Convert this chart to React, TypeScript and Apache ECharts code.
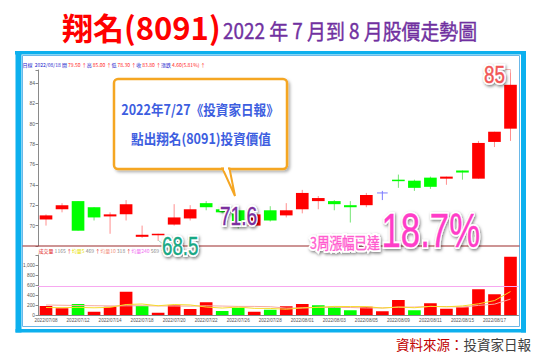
import { useEffect, useRef } from "react";
import * as echarts from "echarts";

// Trading days shown on the chart
const dates = [
  "2022/07/08", "2022/07/11", "2022/07/12", "2022/07/13", "2022/07/14", "2022/07/15",
  "2022/07/18", "2022/07/19", "2022/07/20", "2022/07/21", "2022/07/22",
  "2022/07/25", "2022/07/26", "2022/07/27", "2022/07/28", "2022/07/29",
  "2022/08/01", "2022/08/02", "2022/08/03", "2022/08/04", "2022/08/05",
  "2022/08/08", "2022/08/09", "2022/08/10", "2022/08/11", "2022/08/12",
  "2022/08/15", "2022/08/16", "2022/08/17", "2022/08/18",
];

// Daily prices
const opens = [70.6, 71.6, 72.4, 71.8, 70.9, 71.1, 68.9, 69.1, 70.1, 70.7, 72.2, 71.6, 71.5, 70.0, 71.5, 71.0, 71.6, 72.4, 72.4, 72.0, 72.0, 73.2, 74.5, 74.4, 74.7, 74.6, 75.4, 74.6, 78.2, 79.5];
const closes = [71.0, 72.0, 69.5, 70.8, 71.1, 72.1, 69.1, 69.2, 70.8, 71.6, 71.8, 71.3, 69.9, 71.1, 70.5, 71.5, 73.2, 72.7, 72.1, 71.8, 73.0, 73.2, 74.4, 73.7, 73.8, 74.8, 75.2, 78.1, 79.2, 83.8];
const lows = [70.0, 71.3, 69.5, 70.5, 69.2, 70.5, 68.8, 68.5, 70.0, 70.5, 71.5, 71.2, 69.7, 70.0, 70.4, 70.8, 71.2, 71.6, 71.5, 70.3, 71.8, 72.5, 73.7, 73.4, 73.6, 74.0, 74.5, 74.6, 77.7, 78.3];
const highs = [71.1, 72.2, 72.4, 71.8, 71.3, 72.5, 70.0, 69.2, 72.1, 72.0, 72.4, 71.6, 71.5, 71.6, 71.9, 72.2, 73.5, 72.9, 72.5, 72.4, 73.2, 73.4, 75.0, 74.5, 74.8, 74.8, 75.4, 78.3, 79.2, 85.0];

// Daily volume (lots) and its moving averages
const volumes = [180, 135, 220, 65, 165, 465, 180, 45, 195, 120, 255, 80, 145, 65, 105, 175, 220, 195, 165, 95, 165, 75, 300, 95, 235, 125, 155, 515, 415, 1165];
const volMa5 = [150, 146, 152, 144, 153, 210, 220, 185, 210, 201, 159, 139, 159, 133, 131, 115, 143, 152, 172, 169, 168, 139, 160, 145, 173, 165, 181, 224, 288, 469];
const volMa10 = [200, 195, 190, 186, 182, 184, 185, 181, 180, 177, 185, 179, 172, 172, 166, 137, 141, 155, 153, 150, 141, 141, 156, 159, 171, 167, 160, 192, 217, 318];
const volMa240 = 569;

// Axis ranges and ticks
const priceMin = 68;
const priceMax = 85.25;
const priceStep = 2;
const volMax = 1200;
const volStep = 200;

// Annotated prices
const articlePrice = 71.6;
const lowPrice = 68.5;
const highPrice = 85;
const gainPct = 18.7;

const RED = "#ff0000";
const GREEN = "#00ff00";
const FLAT = "#7b7bff";
const BLUE = "#0db0ee";
const CJK = "'Noto Sans CJK TC', 'Noto Sans', sans-serif";
const LAT = "'Liberation Sans', Arial, sans-serif";

const volumeColors = volumes.map((_, i) => {
  const ref = i === 0 ? opens[0] : closes[i - 1];
  return closes[i] > ref ? RED : closes[i] < ref ? GREEN : FLAT;
});

// Outlined callout text: a white halo with a drop shadow underneath, the coloured glyphs on top
function bigLabel(text: string, x: number, y: number, size: number, sx: number, color: string, family = LAT) {
  const base = {
    text,
    fontSize: size,
    fontFamily: family,
    align: "left",
    verticalAlign: "middle",
  };
  return {
    type: "group",
    x,
    y,
    scaleX: sx,
    z: 100,
    children: [
      {
        type: "text",
        z: 100,
        style: {
          ...base,
          fill: "#ffffff",
          stroke: "#ffffff",
          lineWidth: 4,
          lineJoin: "round",
          textShadowColor: "rgba(0,0,0,0.5)",
          textShadowBlur: 3,
          textShadowOffsetX: 1,
          textShadowOffsetY: 1.5,
        },
      },
      { type: "text", z: 101, style: { ...base, fill: color, stroke: color, lineWidth: 0.4 } },
    ],
  };
}

export default function App() {
  const ref = useRef<HTMLDivElement>(null);

  useEffect(() => {
    const chart = echarts.init(ref.current!, null, { renderer: "svg" });

    const candleData = dates.map((_, i) => [i, opens[i], closes[i], lows[i], highs[i]]);
    const last = dates.length - 1;
    const change = closes[last] - closes[last - 1];
    const changePct = (change / closes[last - 1]) * 100;

    const option: any = {
      animation: false,
      backgroundColor: "#ffffff",
      grid: [
        { left: 38, right: 23.5, top: 70, height: 176 },
        { left: 38, right: 23.5, top: 255, height: 60 },
      ],
      xAxis: [
        { type: "category", gridIndex: 0, data: dates, boundaryGap: true, show: false },
        {
          type: "category",
          gridIndex: 1,
          data: dates,
          boundaryGap: true,
          axisLine: { lineStyle: { color: "#8a8a8a", width: 1 } },
          axisTick: { alignWithLabel: true, interval: 1, length: 2, lineStyle: { color: "#8a8a8a" } },
          axisLabel: { interval: 1, fontSize: 4.6, color: "#555", margin: 3, fontFamily: LAT },
        },
      ],
      yAxis: [
        {
          type: "value",
          gridIndex: 0,
          min: priceMin,
          max: priceMax,
          interval: priceStep,
          splitLine: { show: false },
          axisLine: { show: true, lineStyle: { color: "#8a8a8a", width: 1 } },
          axisTick: { show: true, length: 2.5, lineStyle: { color: "#8a8a8a" } },
          axisLabel: {
            fontSize: 5,
            color: "#555",
            margin: 3,
            fontFamily: LAT,
            formatter: (v: number) => (v > priceMin && v < priceMax ? String(v) : ""),
          },
        },
        {
          type: "value",
          gridIndex: 1,
          min: 0,
          max: volMax,
          interval: volStep,
          splitLine: { show: false },
          axisLine: { show: true, lineStyle: { color: "#8a8a8a", width: 1 } },
          axisTick: { show: true, length: 2.5, lineStyle: { color: "#8a8a8a" } },
          axisLabel: {
            fontSize: 4.8,
            color: "#555",
            margin: 3,
            fontFamily: LAT,
            formatter: (v: number) => (v >= volMax ? "" : v.toLocaleString("en-US")),
          },
        },
      ],
      series: [
        {
          type: "custom",
          xAxisIndex: 0,
          yAxisIndex: 0,
          data: candleData,
          encode: { x: 0, y: [1, 2, 3, 4] },
          z: 5,
          renderItem: (_params: any, api: any) => {
            const i = api.value(0);
            const o = api.value(1);
            const c = api.value(2);
            const l = api.value(3);
            const h = api.value(4);
            const [cx, yo] = api.coord([i, o]);
            const yc = api.coord([i, c])[1];
            const yl = api.coord([i, l])[1];
            const yh = api.coord([i, h])[1];
            const w = api.size([1, 0])[0] * 0.79;
            const flat = o === c;
            const body = flat ? FLAT : c > o ? RED : GREEN;
            const wick = flat ? FLAT : c > o ? "#ff8f8f" : "#74e474";
            const top = Math.min(yo, yc);
            const bot = Math.max(yo, yc);
            return {
              type: "group",
              children: [
                { type: "line", shape: { x1: cx, y1: yh, x2: cx, y2: yl }, style: { stroke: wick, lineWidth: 1 } },
                flat
                  ? { type: "line", shape: { x1: cx - w / 2 + 1, y1: yo, x2: cx + w / 2 - 1, y2: yo }, style: { stroke: body, lineWidth: 1 } }
                  : { type: "rect", shape: { x: cx - w / 2, y: top, width: w, height: Math.max(bot - top, 1.5) }, style: { fill: body } },
              ],
            };
          },
        },
        {
          type: "bar",
          xAxisIndex: 1,
          yAxisIndex: 1,
          barWidth: "79%",
          data: volumes.map((v, i) => ({ value: v, itemStyle: { color: volumeColors[i] } })),
          z: 2,
        },
        {
          type: "line",
          xAxisIndex: 1,
          yAxisIndex: 1,
          data: volMa10,
          symbol: "none",
          lineStyle: { color: "#f7a9a0", width: 1 },
          z: 3,
          markLine: {
            silent: true,
            symbol: "none",
            label: { show: false },
            lineStyle: { color: "#f7a8f0", width: 1, type: "solid" },
            data: [{ yAxis: volMa240 }],
          },
        },
        {
          type: "line",
          xAxisIndex: 1,
          yAxisIndex: 1,
          data: volMa5,
          symbol: "none",
          lineStyle: { color: "#f5dc2a", width: 1 },
          z: 4,
        },
      ],
      graphic: [
        // frame
        { type: "rect", shape: { x: 15, y: 51, width: 511, height: 3.5 }, style: { fill: BLUE } },
        { type: "rect", shape: { x: 15.5, y: 51, width: 6, height: 281.5 }, style: { fill: BLUE } },
        { type: "rect", shape: { x: 521, y: 51, width: 5, height: 281.5 }, style: { fill: BLUE } },
        { type: "rect", shape: { x: 15.5, y: 329, width: 510.5, height: 3.5 }, style: { fill: BLUE } },
        { type: "rect", shape: { x: 22.5, y: 55.5, width: 497, height: 271 }, style: { fill: "none", stroke: "#6ab8e8", lineWidth: 1 } },
        { type: "line", shape: { x1: 22.5, y1: 246, x2: 519.5, y2: 246 }, style: { stroke: "#9b2a2a", lineWidth: 1.2 }, z: 10 },

        // title
        {
          type: "text",
          x: 62,
          y: 26,
          style: { text: "翔名(8091)", fontSize: 31, fontWeight: "bold", fontFamily: CJK, fill: "#ff0000", align: "left", verticalAlign: "middle" },
        },
        {
          type: "text",
          x: 223,
          y: 30,
          scaleX: 0.9,
          style: { text: "2022 年 7 月到 8 月股價走勢圖", fontSize: 21, fontFamily: CJK, fill: "#7030a0", stroke: "#7030a0", lineWidth: 0.4, align: "left", verticalAlign: "middle" },
        },

        // quote line
        {
          type: "text",
          x: 22.5,
          y: 64,
          style: {
            text:
              `{b|日線}  {b|${dates[last]}} {b|開} {r|${opens[last].toFixed(2)} ↑}{b|高} {r|${highs[last].toFixed(2)} ↑}` +
              `{b|低} {r|${lows[last].toFixed(2)} ↑}{b|收} {r|${closes[last].toFixed(2)} ↑}{b|漲跌} {r|${change.toFixed(2)}(${changePct.toFixed(2)}%) ↑}`,
            fontSize: 5,
            fontFamily: CJK,
            align: "left",
            verticalAlign: "middle",
            rich: {
              b: { fill: "#1a1acc", fontSize: 5, fontFamily: CJK },
              r: { fill: "#ff2020", fontSize: 5, fontFamily: CJK },
            },
          },
        },

        // volume line
        {
          type: "text",
          x: 38.5,
          y: 250,
          z: 20,
          style: {
            text: `{r|成交量} {g|${volumes[last]}} {r|↑}{y|均量5} {g|${volMa5[last]}} {r|↑}{o|均量10} {g|${volMa10[last]}} {r|↑}{p|均量240} {g|${volMa240}} {r|↑}`,
            fontSize: 5,
            fontFamily: CJK,
            align: "left",
            verticalAlign: "middle",
            rich: {
              r: { fill: "#e02020", fontSize: 5, fontFamily: CJK },
              g: { fill: "#888888", fontSize: 5, fontFamily: CJK },
              y: { fill: "#e8e000", fontSize: 5, fontFamily: CJK },
              o: { fill: "#f2907e", fontSize: 5, fontFamily: CJK },
              p: { fill: "#f070f0", fontSize: 5, fontFamily: CJK },
            },
          },
        },

        // callout
        {
          type: "rect",
          z: 90,
          shape: { x: 114, y: 79, width: 173, height: 90, r: 4 },
          style: {
            fill: "#ffffff",
            stroke: "#f5a623",
            lineWidth: 2.5,
            shadowColor: "rgba(0,0,0,0.3)",
            shadowBlur: 3,
            shadowOffsetX: 2,
            shadowOffsetY: 2,
          },
        },
        {
          type: "polygon",
          z: 91,
          shape: { points: [[222.5, 168.5], [229.5, 168.5], [235, 196]] },
          style: { fill: "#ffffff", stroke: "#f5a623", lineWidth: 2 },
        },
        { type: "rect", z: 92, shape: { x: 224, y: 166, width: 4, height: 4.5 }, style: { fill: "#ffffff" } },
        {
          type: "text",
          x: 200,
          y: 109,
          scaleX: 0.9,
          z: 95,
          style: { text: "2022年7/27《投資家日報》", fontSize: 14, fontWeight: "bold", fontFamily: CJK, fill: "#3d5ee0", align: "center", verticalAlign: "middle" },
        },
        {
          type: "text",
          x: 201,
          y: 138,
          scaleX: 0.9,
          z: 95,
          style: { text: "點出翔名(8091)投資價值", fontSize: 14, fontWeight: "bold", fontFamily: CJK, fill: "#3d5ee0", align: "center", verticalAlign: "middle" },
        },

        // price annotations
        { type: "line", z: 99, shape: { x1: 158.5, y1: 240.5, x2: 163, y2: 244 }, style: { stroke: "#8fd0b8", lineWidth: 0.8 } },
        bigLabel(String(lowPrice), 162, 246, 26, 0.72, "#17a884"),
        bigLabel(String(articlePrice), 220, 215.5, 26.5, 0.72, "#7b2f9e"),
        { type: "polyline", z: 99, shape: { points: [[504, 69.5], [510.5, 69.5], [510.5, 73]] }, style: { stroke: "#f4a0a0", lineWidth: 0.8, fill: "none" } },
        bigLabel(String(highPrice), 484, 74.5, 23, 0.82, "#f25656"),
        bigLabel("3周漲幅已達", 310, 242.5, 15.5, 0.81, "#ff5ccf", CJK),
        bigLabel(`${gainPct}%`, 381.5, 230.5, 49, 0.71, "#ff3dc8"),

        // source
        {
          type: "text",
          x: 531,
          y: 344,
          style: {
            text: "{a|資料來源：}{b|投資家日報}",
            fontSize: 13.5,
            fontFamily: CJK,
            align: "right",
            verticalAlign: "middle",
            rich: {
              a: { fill: "#c00000", fontSize: 13.5, fontFamily: CJK },
              b: { fill: "#404040", fontSize: 13.5, fontFamily: CJK },
            },
          },
        },
      ],
    };

    chart.setOption(option);
    return () => chart.dispose();
  }, []);

  return (
    <div
      ref={ref}
      style={{ position: "fixed", left: 0, top: 0, width: 542, height: 355, background: "#ffffff" }}
    />
  );
}
